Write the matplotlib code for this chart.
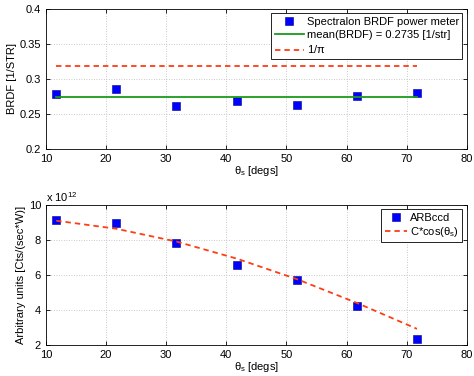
import numpy as np
import matplotlib
matplotlib.use("Agg")
import matplotlib.pyplot as plt

plt.rcParams['font.family'] = ['Liberation Sans', 'DejaVu Sans']
plt.rcParams['font.size'] = 8
plt.rcParams['mathtext.fontset'] = 'custom'
plt.rcParams['mathtext.rm'] = 'Liberation Sans'
plt.rcParams['mathtext.it'] = 'Liberation Sans'

# scattering angles [degs]
theta = [11.7, 21.7, 31.7, 41.7, 51.7, 61.7, 71.7]

# BRDF measured with power meter [1/str]
brdf = [0.278, 0.286, 0.262, 0.268, 0.263, 0.275, 0.280]
brdf_mean = 0.2735
lambert = 1 / np.pi

# CCD counts (x 1e12) and cosine fit read at the same angles
arb_ccd = [9.15, 8.95, 7.8, 6.55, 5.7, 4.25, 2.35]
cos_fit = [9.10, 8.64, 7.91, 6.94, 5.77, 4.41, 2.93]

blue = '#0000ff'
red = '#ff3d14'
green = '#1a9a1a'

fig = plt.figure(figsize=(4.74, 3.76), dpi=100)
ax1 = fig.add_axes([0.097, 0.604, 0.888, 0.372])
ax2 = fig.add_axes([0.097, 0.082, 0.888, 0.373])

def style(ax):
    ax.grid(True, linestyle=(0, (1, 2)), color='#b8b8b8', linewidth=0.6)
    ax.tick_params(direction='in', top=True, right=True, length=3, width=0.6)
    for s in ax.spines.values():
        s.set_linewidth(0.6)
    ax.set_xlim(10, 80)
    ax.set_xticks(range(10, 81, 10))
    ax.set_xlabel(r'$\theta_\mathregular{s}$ [degs]', labelpad=0)

# top panel
ax1.plot(theta, brdf, 's', color=blue, markersize=5.5, markeredgecolor='#000080',
         markeredgewidth=0.4, label='Spectralon BRDF power meter')
ax1.plot([theta[0], theta[-1]], [brdf_mean, brdf_mean], '-', color=green, linewidth=1.3,
         label='mean(BRDF) = 0.2735 [1/str]')
ax1.plot([theta[0], theta[-1]], [lambert, lambert], '--', color=red, linewidth=1.3,
         dashes=(3, 2.2), label=r'1/$\pi$')
ax1.set_ylim(0.2, 0.4)
ax1.set_yticks([0.2, 0.25, 0.3, 0.35, 0.4])
ax1.set_yticklabels(['0.2', '0.25', '0.3', '0.35', '0.4'])
ax1.set_ylabel('BRDF [1/STR]', labelpad=2)
style(ax1)
leg = ax1.legend(loc='upper right', fancybox=False, edgecolor='black', framealpha=1,
                 borderaxespad=0.4, handlelength=2.6, borderpad=0.3, labelspacing=0.3,
                 handletextpad=0.3)
leg.get_frame().set_linewidth(0.6)

# bottom panel
ax2.plot(theta, arb_ccd, 's', color=blue, markersize=5.5, markeredgecolor='#000080',
         markeredgewidth=0.4, label='ARBccd')
ax2.plot(theta, cos_fit, '--', color=red, linewidth=1.3, dashes=(3, 2.2),
         label=r'C*cos($\theta_\mathregular{s}$)')
ax2.set_ylim(2, 10)
ax2.set_yticks([2, 4, 6, 8, 10])
ax2.set_ylabel('Arbitrary units [Cts/(sec*W)]', labelpad=2)
ax2.text(0.0, 1.01, r'x 10$^{12}$', transform=ax2.transAxes, ha='left', va='bottom')
style(ax2)
leg2 = ax2.legend(loc='upper right', fancybox=False, edgecolor='black', framealpha=1,
                  borderaxespad=0.4, handlelength=2.0, borderpad=0.3, labelspacing=0.2,
                  handletextpad=0.3)
leg2.get_frame().set_linewidth(0.6)

fig.savefig('out.png', dpi=100)
